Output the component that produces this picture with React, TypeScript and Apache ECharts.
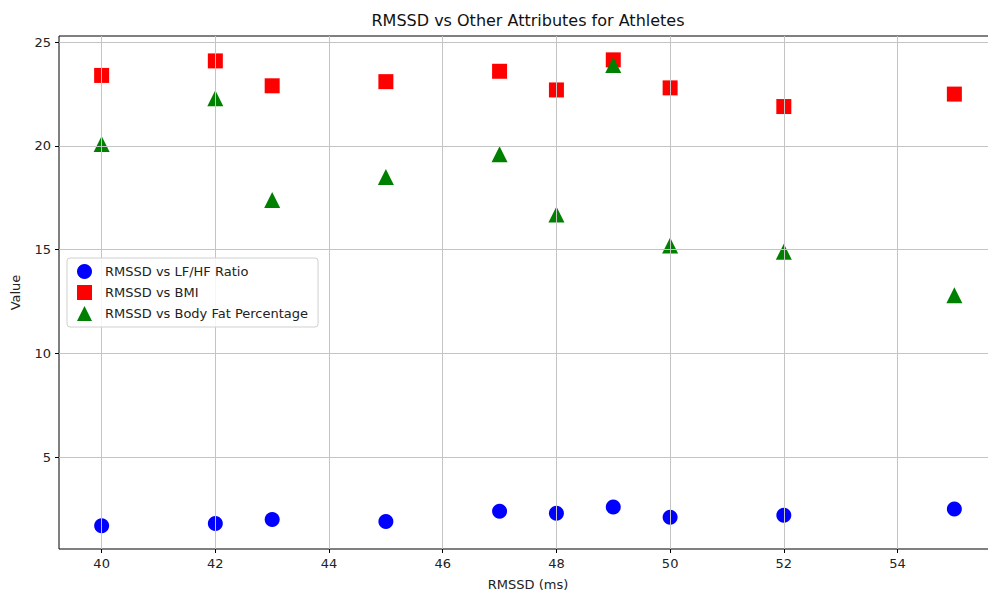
import React, { useEffect, useRef } from "react";
import * as echarts from "echarts";

const rmssd = [40, 42, 43, 45, 47, 48, 49, 50, 52, 55];
const lfhf = [1.7, 1.8, 2.0, 1.9, 2.4, 2.3, 2.6, 2.1, 2.2, 2.5];
const bmi = [23.4, 24.1, 22.9, 23.1, 23.6, 22.7, 24.15, 22.8, 21.9, 22.5];
const bodyFat = [20.1, 22.3, 17.4, 18.5, 19.6, 16.7, 23.9, 15.2, 14.9, 12.8];
const xTicks = [40, 42, 44, 46, 48, 50, 52, 54];
const yTicks = [5, 10, 15, 20, 25];

const FONT = "DejaVu Sans";

export default function App() {
  const ref = useRef<HTMLDivElement>(null);
  useEffect(() => {
    if (!ref.current) return;
    const chart = echarts.init(ref.current, null, { renderer: "svg" });
    const pair = (ys: number[]) => rmssd.map((x, i) => [x, ys[i]]);
    const axisCommon = {
      axisLine: { show: false },
      splitLine: { show: true, lineStyle: { color: "#c4c4c4", width: 1 } },
      axisTick: { show: true, length: 4, lineStyle: { color: "#000" } },
      axisLabel: { color: "#222", fontFamily: FONT, fontSize: 13 },
      z: 3,
    };
    chart.setOption({
      animation: false,
      backgroundColor: "#fff",
      grid: {
        left: 59,
        top: 36,
        width: 938,
        height: 513,
        outerBoundsMode: "none",
        containLabel: false,
        show: true,
        borderColor: "#000",
        borderWidth: 1,
        backgroundColor: "transparent",
      },
      graphic: [
        {
          type: "text",
          x: 528,
          y: 20,
          style: {
            text: "RMSSD vs Other Attributes for Athletes",
            fontFamily: FONT,
            fontSize: 16,
            fill: "#111",
            textAlign: "center",
            textVerticalAlign: "middle",
          },
        },
      ],
      xAxis: {
        type: "value",
        min: 39.25,
        max: 55.75,
        name: "RMSSD (ms)",
        nameLocation: "middle",
        nameGap: 29,
        nameTextStyle: { color: "#222", fontFamily: FONT, fontSize: 13 },
        ...axisCommon,
        axisTick: { ...axisCommon.axisTick, customValues: xTicks },
        axisLabel: { ...axisCommon.axisLabel, customValues: xTicks, margin: 8 },
      },
      yAxis: {
        type: "value",
        min: 0.575,
        max: 25.3,
        name: "Value",
        nameLocation: "middle",
        nameGap: 37,
        nameTextStyle: { color: "#222", fontFamily: FONT, fontSize: 13 },
        ...axisCommon,
        axisTick: { ...axisCommon.axisTick, customValues: yTicks },
        axisLabel: { ...axisCommon.axisLabel, customValues: yTicks, margin: 8 },
      },
      legend: {
        orient: "vertical",
        left: 67,
        top: 258,
        z: 10,
        itemWidth: 15,
        itemHeight: 15,
        itemGap: 6,
        padding: [6, 10, 6, 10],
        backgroundColor: "rgba(255,255,255,0.85)",
        borderColor: "#d0d0d0",
        borderWidth: 1,
        borderRadius: 3,
        textStyle: { color: "#222", fontFamily: FONT, fontSize: 13, padding: [0, 0, 0, 8] },
        data: [
          { name: "RMSSD vs LF/HF Ratio", icon: "circle" },
          { name: "RMSSD vs BMI", icon: "rect" },
          { name: "RMSSD vs Body Fat Percentage", icon: "triangle" },
        ],
      },
      series: [
        {
          name: "RMSSD vs LF/HF Ratio",
          type: "scatter",
          symbol: "circle",
          symbolSize: 15,
          itemStyle: { color: "#0000ff", opacity: 1 },
          data: pair(lfhf),
        },
        {
          name: "RMSSD vs BMI",
          type: "scatter",
          symbol: "rect",
          symbolSize: 15,
          itemStyle: { color: "#ff0000", opacity: 1 },
          data: pair(bmi),
        },
        {
          name: "RMSSD vs Body Fat Percentage",
          type: "scatter",
          symbol: "triangle",
          symbolSize: 16,
          itemStyle: { color: "#008000", opacity: 1 },
          data: pair(bodyFat),
        },
      ],
    });
    return () => chart.dispose();
  }, []);
  return (
    <div
      ref={ref}
      style={{ position: "fixed", left: 0, top: 0, width: 1000, height: 593 }}
    />
  );
}
